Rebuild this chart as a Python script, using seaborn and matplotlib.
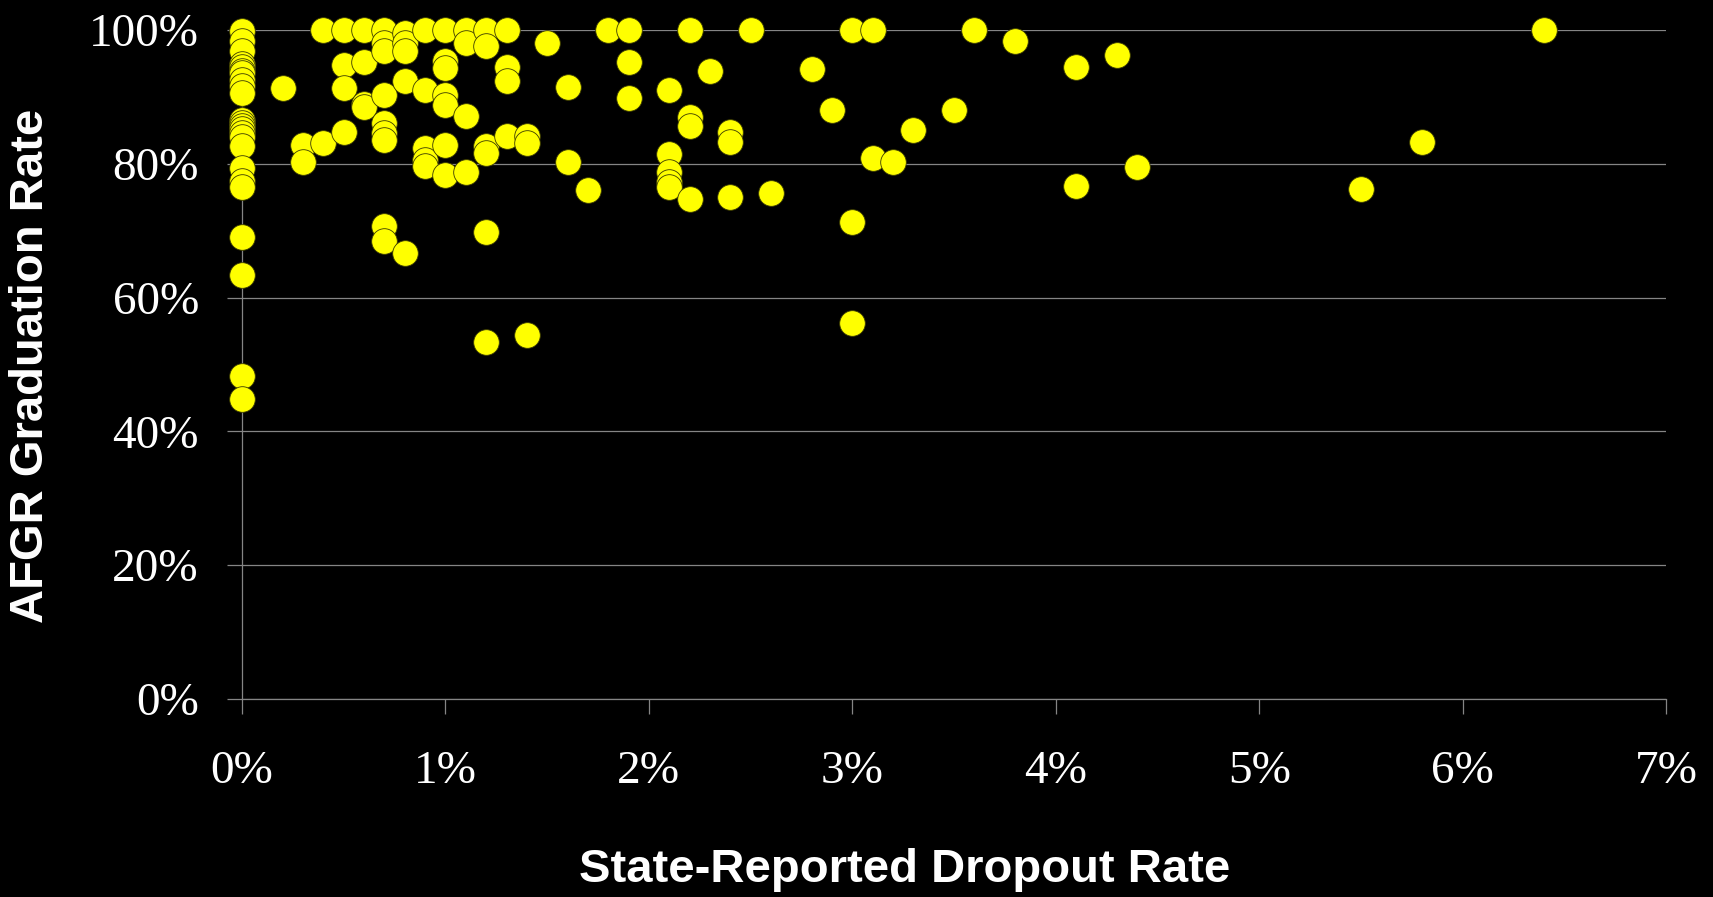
import matplotlib
matplotlib.use("Agg")
import matplotlib.pyplot as plt
import matplotlib.ticker as mtick
import pandas as pd
import seaborn as sns

# state-reported dropout rate (%)
dropout_rate = (
    [0.0] * 24
    + [0.2, 0.3, 0.3, 0.4, 0.4]
    + [0.5] * 4 + [0.6] * 4 + [0.7] * 9 + [0.8] * 5 + [0.9] * 5
    + [1.0] * 7 + [1.1] * 4 + [1.2] * 6 + [1.3] * 4 + [1.4] * 3
    + [1.5, 1.6, 1.6, 1.7, 1.8, 1.9, 1.9, 1.9]
    + [2.1] * 5 + [2.2] * 4 + [2.3, 2.4, 2.4, 2.4, 2.5, 2.6, 2.8, 2.9]
    + [3.0, 3.0, 3.0, 3.1, 3.1, 3.2, 3.3, 3.5, 3.6, 3.8]
    + [4.1, 4.1, 4.3, 4.4, 5.5, 5.8, 6.4]
)

# AFGR graduation rate (%), same order as above
graduation_rate = [
    # 0%
    99.9, 98.3, 96.9, 94.9, 94.4, 93.9, 93.5, 92.5, 91.6, 90.6,
    86.6, 86.1, 85.6, 85.2, 84.6, 84.0, 82.7, 79.4, 77.5, 76.6,
    69.1, 63.4, 48.3, 44.9,
    # 0.2 - 0.4
    91.3, 82.8, 80.2, 100.0, 83.1,
    # 0.5
    100.0, 94.8, 91.3, 84.7,
    # 0.6
    100.0, 95.2, 89.0, 88.5,
    # 0.7
    100.0, 98.0, 96.8, 90.3, 86.1, 84.6, 83.6, 70.7, 68.5,
    # 0.8
    99.5, 98.0, 96.8, 92.3, 66.6,
    # 0.9
    100.0, 91.0, 82.3, 80.6, 79.6,
    # 1.0
    100.0, 95.3, 94.3, 90.3, 88.8, 82.8, 78.3,
    # 1.1
    100.0, 98.0, 87.1, 78.7,
    # 1.2
    100.0, 97.6, 82.6, 81.6, 69.8, 53.3,
    # 1.3
    100.0, 94.5, 92.3, 84.1,
    # 1.4
    84.1, 83.1, 54.4,
    # 1.5 - 1.9
    98.1, 91.5, 80.3, 76.1, 100.0, 100.0, 95.2, 89.8,
    # 2.1
    91.1, 81.5, 78.7, 77.3, 76.6,
    # 2.2
    100.0, 87.0, 85.6, 74.8,
    # 2.3 - 2.9
    93.9, 84.8, 83.3, 75.1, 100.0, 75.7, 94.1, 88.1,
    # 3.0 - 3.8
    100.0, 71.3, 56.2, 100.0, 80.8, 80.2, 85.0, 88.1, 100.0, 98.4,
    # 4.1 - 6.4
    94.5, 76.7, 96.3, 79.5, 76.2, 83.2, 100.0,
]

x_ticks = [0, 1, 2, 3, 4, 5, 6, 7]
y_ticks = [0, 20, 40, 60, 80, 100]

df = pd.DataFrame({"dropout": dropout_rate, "afgr": graduation_rate})

sns.set_style("dark", {"axes.facecolor": "black", "figure.facecolor": "black"})
plt.rcParams["font.family"] = ["Liberation Serif", "DejaVu Serif"]

fig = plt.figure(figsize=(17.13, 8.97), dpi=100)
ax = fig.add_axes([0.1413, 0.2207, 0.8313, 0.7459])
ax.set_facecolor("black")

grid_col = "#858585"
ax.set_xlim(0, 7)
ax.set_ylim(0, 100)
ax.set_xticks(x_ticks)
ax.set_yticks(y_ticks)
ax.yaxis.grid(True, color=grid_col, linewidth=0.9)
ax.xaxis.grid(False)
ax.set_axisbelow(True)

sns.scatterplot(data=df, x="dropout", y="afgr", ax=ax, s=340,
                color="#ffff00", edgecolor="#3a3a00", linewidth=0.6,
                zorder=3, clip_on=False, legend=False)

ax.xaxis.set_major_formatter(mtick.PercentFormatter(decimals=0))
ax.yaxis.set_major_formatter(mtick.PercentFormatter(decimals=0))
ax.tick_params(axis="both", colors=grid_col, labelcolor="white",
               length=11, width=0.9, direction="out", labelsize=34)
ax.tick_params(axis="x", pad=26)
ax.tick_params(axis="y", pad=20)
ax.tick_params(axis="both", left=True, bottom=True)

for side in ["top", "right"]:
    ax.spines[side].set_visible(False)
for side in ["left", "bottom"]:
    ax.spines[side].set_color(grid_col)
    ax.spines[side].set_linewidth(0.9)

ax.set_xlabel("")
ax.set_ylabel("")
label_font = ["Liberation Sans Narrow", "Liberation Sans"]
fig.text(0.528, 0.030, "State-Reported Dropout Rate", color="white",
         fontsize=34, fontweight="bold", family=label_font,
         ha="center", va="center")
fig.text(0.018, 0.592, "AFGR Graduation Rate", color="white",
         fontsize=34, fontweight="bold", family=label_font,
         rotation=90, ha="center", va="center")

fig.savefig("out.png", dpi=100, facecolor="black")
